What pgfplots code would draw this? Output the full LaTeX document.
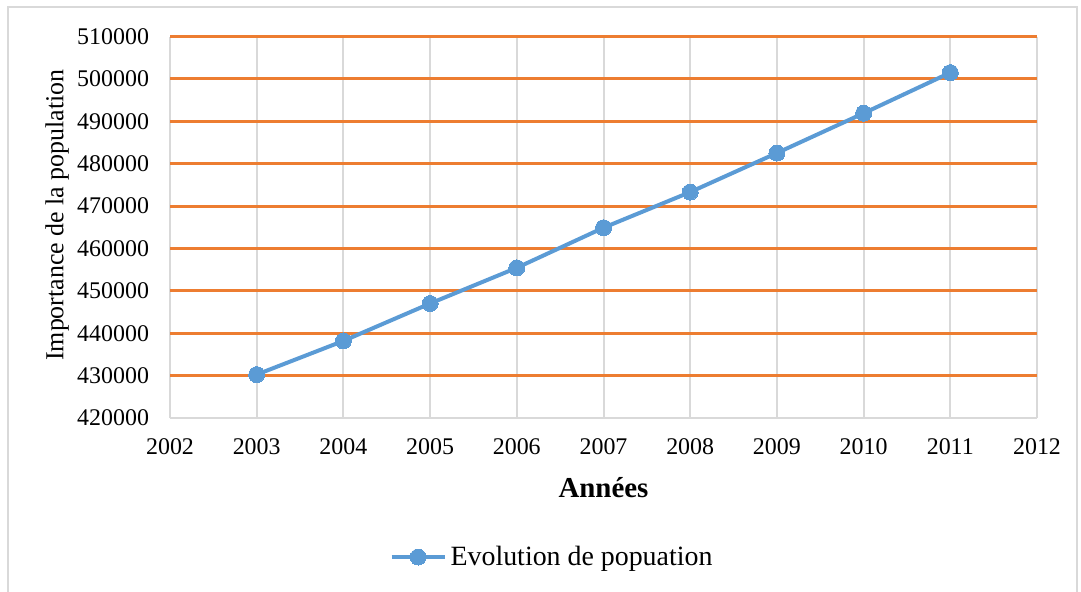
\documentclass[border=0pt]{standalone}
\usepackage{fontspec}
\setmainfont{Liberation Serif}
\usepackage{pgfplots}
\pgfplotsset{compat=1.18}
\definecolor{lineblue}{HTML}{5B9BD5}
\definecolor{gridorange}{HTML}{ED7D31}
\definecolor{gridgray}{HTML}{D9D9D9}
\begin{document}
\begin{tikzpicture}
\useasboundingbox (0,0) rectangle (540.5bp,296bp);
% chart area border
\draw[gridgray, line width=1bp] (4bp,-5bp) -- (4bp,292.5bp) -- (538.5bp,292.5bp) -- (538.5bp,-5bp);
\begin{axis}[
  at={(85bp,87bp)}, anchor=south west,
  scale only axis, width=433.5bp, height=190.7bp,
  xmin=2002, xmax=2012, ymin=420000, ymax=510000,
  xtick={2002,2003,...,2012},
  ytick={420000,430000,...,510000},
  scaled y ticks=false, scaled x ticks=false,
  axis x line=bottom, axis y line=left,
  axis line style={gridgray, line width=1bp, -},
  major tick length=0pt,
  xmajorgrids,
  major grid style={gridgray, line width=1bp},
  extra y ticks={430000,440000,...,510000},
  extra y tick labels={},
  extra y tick style={ymajorgrids=true, major grid style={gridorange, line width=1.5bp}},
  tick label style={font=\fontsize{12}{14}\selectfont,
    /pgf/number format/fixed, /pgf/number format/1000 sep={},
    /pgf/number format/assume math mode=true},
  xticklabel style={yshift=-6.7bp},
  yticklabel style={xshift=-7bp},
  xlabel={\textbf{Années}},
  xlabel style={font=\fontsize{14.5}{16}\selectfont, at={(axis description cs:0.5,-0.1835)}, anchor=center},
  ylabel={Importance de la population},
  ylabel style={font=\fontsize{13}{15}\selectfont, at={(axis description cs:-0.1303,0.532)}, anchor=center, rotate=0},
  legend style={at={(0.4418,-0.3645)}, anchor=center, draw=none, fill=none,
    font=\fontsize{14}{16}\selectfont, inner sep=0pt},
  legend image code/.code={
    \draw[mark repeat=2, mark phase=2] plot coordinates {(0bp,0bp) (13.25bp,0bp) (26.5bp,0bp)};},
]
\addplot[color=lineblue, line width=2bp, mark=*, mark size=4bp,
  mark options={fill=lineblue, draw=lineblue, line width=0pt}]
  coordinates {
    (2003, 430250)
    (2004, 438190)
    (2005, 447020)
    (2006, 455440)
    (2007, 464900)
    (2008, 473310)
    (2009, 482530)
    (2010, 491910)
    (2011, 501500)
  };
\addlegendentry{Evolution de popuation}
\end{axis}
\end{tikzpicture}
\end{document}
